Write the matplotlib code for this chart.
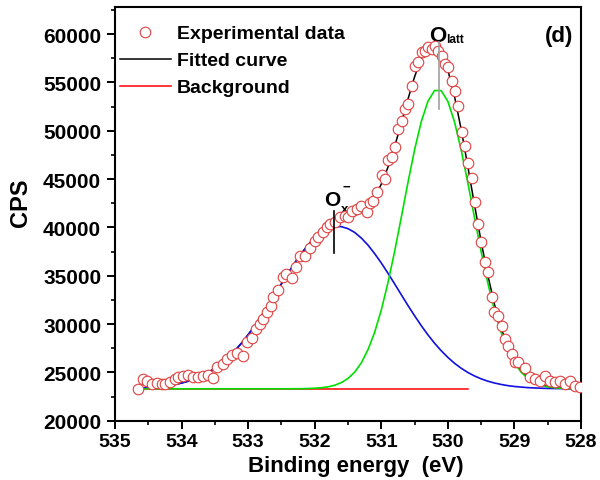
import matplotlib
matplotlib.use('Agg')
import matplotlib.pyplot as plt
from matplotlib.ticker import MultipleLocator

plt.rcParams['font.family'] = ['Liberation Sans', 'DejaVu Sans']
plt.rcParams['font.weight'] = 'bold'

# experimental points (binding energy eV, counts per second)
exp_energy = [
    534.65, 534.58, 534.52, 534.44, 534.37, 534.30, 534.25, 534.17, 534.10, 534.05,
    533.98, 533.90, 533.83, 533.75, 533.68, 533.60, 533.53, 533.47, 533.38, 533.32,
    533.25, 533.17, 533.08, 533.02, 532.94, 532.88, 532.82, 532.77, 532.72, 532.66,
    532.62, 532.55, 532.48, 532.43, 532.34, 532.28, 532.22, 532.14, 532.07, 532.00,
    531.95, 531.87, 531.82, 531.77, 531.70, 531.62, 531.55, 531.50, 531.44, 531.37,
    531.30, 531.22, 531.17, 531.12, 531.06, 530.99, 530.95, 530.90, 530.84, 530.79,
    530.75, 530.69, 530.64, 530.60, 530.54, 530.49, 530.45, 530.39, 530.35, 530.30,
    530.24, 530.19, 530.15, 530.09, 530.04, 530.00, 529.94, 529.90, 529.85, 529.79,
    529.74, 529.70, 529.64, 529.59, 529.55, 529.50, 529.44, 529.40, 529.34, 529.31,
    529.25, 529.19, 529.14, 529.10, 529.04, 528.99, 528.95, 528.84, 528.77, 528.69,
    528.62, 528.54, 528.47, 528.39, 528.32, 528.24, 528.17, 528.09, 528.02,
]
exp_cps = [
    23300, 24300, 24100, 23800, 23900, 23800, 23800, 24000, 24300, 24500,
    24600, 24700, 24500, 24500, 24600, 24700, 24400, 25600, 25900, 26400,
    26800, 27000, 26700, 28100, 28600, 29500, 30000, 30500, 31200, 31900,
    32800, 33500, 34900, 35200, 34800, 35900, 37000, 37000, 37900, 38600,
    39000, 39500, 40000, 40400, 40600, 41100, 41200, 41100, 41700, 41900,
    42200, 41600, 42500, 42700, 43700, 45400, 45000, 47000, 47300, 48300,
    50200, 51000, 52200, 52800, 54600, 56700, 57100, 58100, 58300, 58700,
    58500, 58800, 58300, 57700, 56900, 56600, 55100, 54100, 52600, 49900,
    48400, 46700, 45100, 42600, 40300, 38500, 36400, 35400, 32800, 31200,
    30800, 29800, 28500, 27700, 26900, 26100, 26100, 25500, 24500, 24300,
    24100, 24600, 24100, 24000, 24100, 23800, 24100, 23600, 23500,
]

# fitted components
fit_energy = [
    534.6, 534.5, 534.4, 534.3, 534.2, 534.1, 534.0, 533.9, 533.8, 533.7,
    533.6, 533.5, 533.4, 533.3, 533.2, 533.1, 533.0, 532.9, 532.8, 532.7,
    532.6, 532.5, 532.4, 532.3, 532.2, 532.1, 532.0, 531.9, 531.8, 531.7,
    531.6, 531.5, 531.4, 531.3, 531.2, 531.1, 531.0, 530.9, 530.8, 530.7,
    530.6, 530.5, 530.4, 530.3, 530.2, 530.1, 530.0, 529.9, 529.8, 529.7,
    529.6, 529.5, 529.4, 529.3, 529.2, 529.1, 529.0, 528.9, 528.8, 528.7,
    528.6, 528.5, 528.4, 528.3, 528.2, 528.1,
]
ox_cps = [
    23390, 23420, 23480, 23540, 23630, 23750, 23900, 24090, 24330, 24630,
    24990, 25430, 25940, 26550, 27240, 28020, 28890, 29840, 30860, 31930,
    33040, 34160, 35260, 36320, 37290, 38170, 38900, 39480, 39870, 40080,
    40080, 39870, 39480, 38900, 38170, 37290, 36320, 35260, 34160, 33040,
    31930, 30860, 29840, 28890, 28020, 27240, 26550, 25940, 25430, 24990,
    24630, 24330, 24090, 23900, 23750, 23630, 23540, 23480, 23420, 23390,
    23360, 23340, 23330, 23320, 23310, 23310,
]
olatt_cps = [
    23300, 23300, 23300, 23300, 23300, 23300, 23300, 23300, 23300, 23300,
    23300, 23300, 23300, 23300, 23300, 23300, 23300, 23300, 23300, 23300,
    23300, 23300, 23300, 23310, 23310, 23330, 23360, 23410, 23500, 23670,
    23940, 24370, 25020, 25990, 27340, 29140, 31450, 34260, 37500, 41020,
    44620, 48020, 50920, 53040, 54160, 54160, 53040, 50920, 48020, 44620,
    41020, 37500, 34260, 31450, 29140, 27340, 25990, 25020, 24370, 23940,
    23670, 23500, 23410, 23360, 23330, 23310,
]
background_level = 23300
bg_energy = [534.6, 529.7]

# peak markers
olatt_peak = 530.13
olatt_mark = [52300, 59200]
ox_peak = 531.71
ox_mark = [37400, 41700]

fitted_cps = [a + b - background_level for a, b in zip(ox_cps, olatt_cps)]

fig = plt.figure(figsize=(6, 4.81), dpi=100)
ax = fig.add_axes([0.1917, 0.1233, 0.7766, 0.86])

ax.plot(bg_energy, [background_level] * len(bg_energy), color='#ff0000', lw=1.1,
        label='Background', zorder=1)
ax.plot(fit_energy, fitted_cps, color='black', lw=1.1, label='Fitted curve', zorder=2)
ax.plot(fit_energy, ox_cps, color='#1010e0', lw=1.2, zorder=3)
ax.plot(fit_energy, olatt_cps, color='#00e000', lw=1.2, zorder=4)
ax.plot(exp_energy, exp_cps, ls='none', marker='o', ms=7.6, mfc='white',
        mec='#e04040', mew=0.8, label='Experimental data', zorder=5)

ax.plot([olatt_peak, olatt_peak], olatt_mark, color='#a0a0a0', lw=1.2, zorder=6)
ax.plot([ox_peak, ox_peak], ox_mark, color='black', lw=1.2, zorder=6)

ax.text(530.28, 59300, 'O', fontsize=16, fontweight='bold', ha='left', va='baseline')
ax.text(530.02, 59230, 'latt', fontsize=8.5, fontweight='bold', ha='left', va='baseline')
ax.text(531.86, 42330, 'O', fontsize=15, fontweight='bold', ha='left', va='baseline')
ax.text(531.60, 41600, 'x', fontsize=9.5, fontweight='bold', ha='left', va='baseline')
ax.text(531.59, 44190, '\u2212', fontsize=9.5, fontweight='bold', ha='left', va='center')
ax.text(0.953, 0.932, '(d)', transform=ax.transAxes, fontsize=16, fontweight='bold',
        ha='center', va='center')

ax.set_xlim(535, 528)
ax.set_ylim(20000, 62800)
ax.xaxis.set_major_locator(MultipleLocator(1))
ax.xaxis.set_minor_locator(MultipleLocator(0.5))
ax.yaxis.set_major_locator(MultipleLocator(5000))
ax.yaxis.set_minor_locator(MultipleLocator(2500))
ax.tick_params(which='major', direction='out', length=6, width=1.4, labelsize=15, pad=4)
ax.tick_params(axis='x', which='major', labelsize=14, pad=3)
ax.tick_params(which='minor', direction='out', length=3, width=1.2)
for s in ax.spines.values():
    s.set_linewidth(1.5)

ax.set_xlabel('Binding energy  (eV)', fontsize=16, fontweight='bold')
ax.xaxis.set_label_coords(0.517, -0.084)
ax.set_ylabel('CPS', fontsize=17, fontweight='bold')
ax.yaxis.set_label_coords(-0.178, 0.53)

handles, labels = ax.get_legend_handles_labels()
order = [2, 1, 0]
ax.legend([handles[i] for i in order], [labels[i] for i in order],
          loc='upper left', bbox_to_anchor=(0.011, 0.957), frameon=False,
          borderpad=0, borderaxespad=0, handlelength=2.6, handletextpad=0.3,
          labelspacing=0.48, numpoints=1, prop={'size': 14, 'weight': 'bold'})

fig.savefig('out.png', dpi=100)
